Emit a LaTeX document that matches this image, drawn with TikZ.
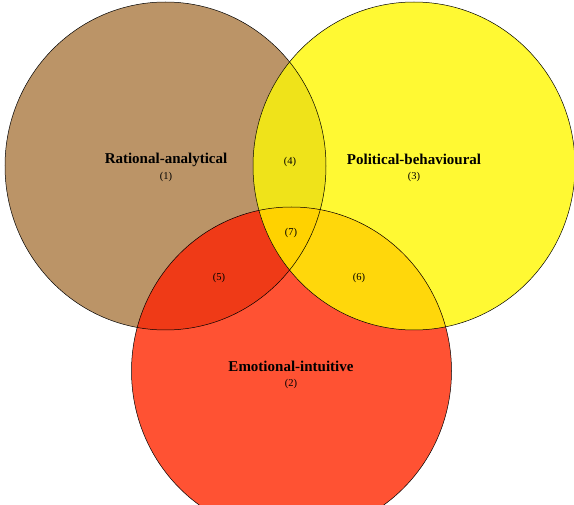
\documentclass[tikz,border=0pt]{standalone}
\usepackage{fontspec}
\setmainfont{Liberation Serif}
\definecolor{cBrown}{HTML}{BB9467}
\definecolor{cYellow}{HTML}{FFF933}
\definecolor{cRed}{HTML}{FF5233}
\definecolor{cFour}{HTML}{EFE31A}
\definecolor{cFive}{HTML}{EF3A17}
\definecolor{cSix}{HTML}{FFD70B}
\definecolor{cSeven}{HTML}{FFD200}
\begin{document}
\begin{tikzpicture}[x=1pt,y=1pt,
  title/.style={font=\bfseries\fontsize{15}{17}\selectfont, inner sep=0pt},
  num/.style={font=\fontsize{10.5}{12}\selectfont, inner sep=0pt},
  outline/.style={draw=black, line width=0.5pt}]
\useasboundingbox (0,0) rectangle (574,-505);
\clip (0,0) rectangle (574,-505);
\def\pathL{(165.5,-166) ellipse [x radius=160.5, y radius=164]}
\def\pathR{(414,-166) ellipse [x radius=161, y radius=164]}
\def\pathB{(291.5,-371) ellipse [x radius=160, y radius=164]}
\fill[cBrown] \pathL;
\fill[cYellow] \pathR;
\fill[cRed] \pathB;
\begin{scope}\clip \pathL; \fill[cFour] \pathR; \end{scope}
\begin{scope}\clip \pathL; \fill[cFive] \pathB; \end{scope}
\begin{scope}\clip \pathR; \fill[cSix] \pathB; \end{scope}
\begin{scope}\clip \pathL; \clip \pathR; \fill[cSeven] \pathB; \end{scope}
\draw[outline] \pathL;
\draw[outline] \pathR;
\draw[outline] \pathB;
\node[title] (ra) at (166,-159.5) {Rational-analytical};
\node[num] (n1) at (166,-176.5) {(1)};
\node[title] (pb) at (414,-159.5) {Political-behavioural};
\node[num] (n3) at (414,-176.5) {(3)};
\node[title] (ei) at (291,-366.5) {Emotional-intuitive};
\node[num] (n2) at (291,-383.5) {(2)};
\node[num] (n4) at (290,-161.5) {(4)};
\node[num] (n7) at (291,-232.5) {(7)};
\node[num] (n5) at (219,-277.5) {(5)};
\node[num] (n6) at (359,-277.5) {(6)};
\end{tikzpicture}
\end{document}
